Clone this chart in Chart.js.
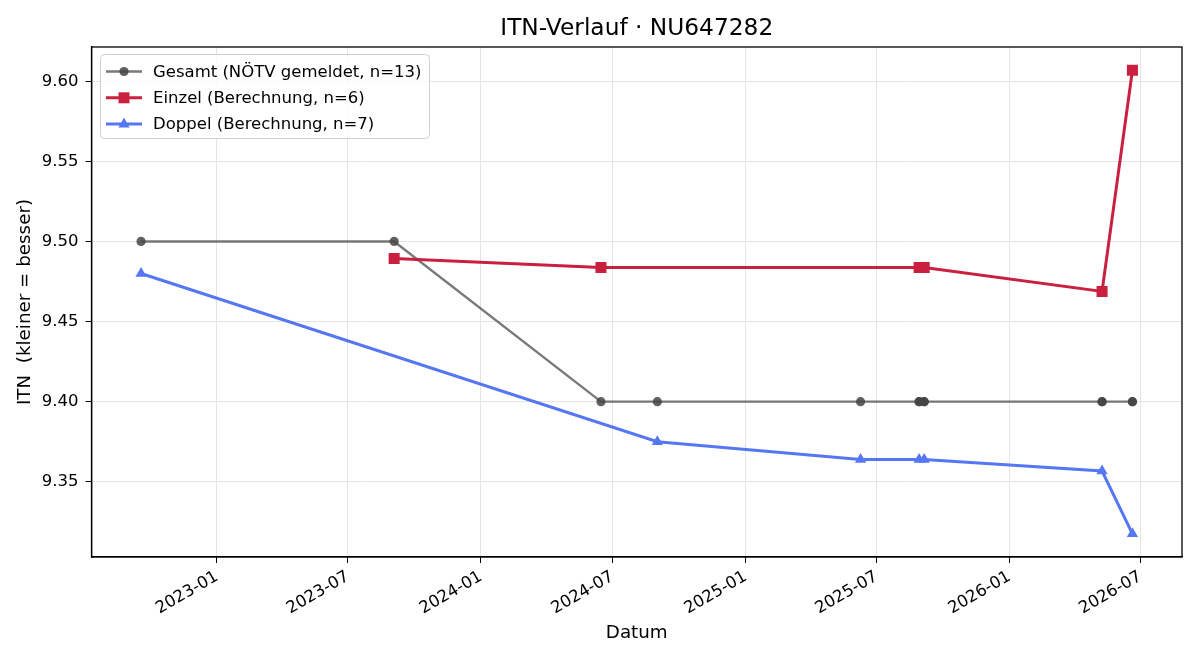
<!DOCTYPE html>
<html>
<head>
<meta charset="utf-8">
<title>ITN-Verlauf</title>
<script src="https://cdn.jsdelivr.net/npm/chart.js@4.4.1/dist/chart.umd.min.js"></script>
<style>
  html, body { margin: 0; padding: 0; background: #fff; }
  #wrap { width: 1200px; height: 660px; }
</style>
</head>
<body>
<div id="wrap"><canvas id="itnChart" width="1200" height="660"></canvas></div>
<script>
// daten
var gesamtDates = ['2022-09-18', '2023-09-03', '2024-06-15', '2024-09-01', '2025-06-09',
    '2025-08-29', '2025-08-29', '2025-09-05', '2025-09-05', '2026-05-09', '2026-05-09',
    '2026-06-20', '2026-06-20'];
var gesamtValues = [9.50, 9.50, 9.40, 9.40, 9.40, 9.40, 9.40, 9.40, 9.40, 9.40, 9.40, 9.40, 9.40];

var einzelDates = ['2023-09-03', '2024-06-15', '2025-08-29', '2025-09-05', '2026-05-09', '2026-06-20'];
var einzelValues = [9.4894, 9.4837, 9.4837, 9.4837, 9.4688, 9.6069];

var doppelDates = ['2022-09-18', '2024-09-01', '2025-06-09', '2025-08-29', '2025-09-05', '2026-05-09', '2026-06-20'];
var doppelValues = [9.48, 9.375, 9.3639, 9.3639, 9.3639, 9.3567, 9.3175];

var xTickLabels = ['2023-01', '2023-07', '2024-01', '2024-07', '2025-01', '2025-07', '2026-01', '2026-07'];
var yTickValues = [9.35, 9.40, 9.45, 9.50, 9.55, 9.60];

var seriesNames = ['Gesamt (NÖTV gemeldet, n=13)', 'Einzel (Berechnung, n=6)', 'Doppel (Berechnung, n=7)'];
var chartTitle = 'ITN-Verlauf · NU647282';

var FONT = 'DejaVu Sans';

function toDay(s) {
    var p = s.split('-');
    return Date.UTC(+p[0], +p[1] - 1, p[2] ? +p[2] : 1) / 86400000;
}
function dayToLabel(d) {
    var dt = new Date(d * 86400000);
    var m = dt.getUTCMonth() + 1;
    return dt.getUTCFullYear() + '-' + (m < 10 ? '0' + m : m);
}
function pts(dates, vals) {
    return dates.map(function (d, i) { return { x: toDay(d), y: vals[i] }; });
}

// achsengrenzen wie bei matplotlib: 5% rand
var allX = [].concat(gesamtDates, einzelDates, doppelDates).map(toDay);
var allY = [].concat(gesamtValues, einzelValues, doppelValues);
var xLo = Math.min.apply(null, allX), xHi = Math.max.apply(null, allX);
var yLo = Math.min.apply(null, allY), yHi = Math.max.apply(null, allY);
var xPad = (xHi - xLo) * 0.05, yPad = (yHi - yLo) * 0.05;

var colGesamt = 'rgba(85,85,85,0.78)';
var colGesamtPt = 'rgba(68,68,68,0.85)';
var colEinzel = '#C9203F';
var colDoppel = '#5677F3';

var legendItems = [
    { text: seriesNames[0], color: colGesamt, pt: colGesamtPt, style: 'circle', lw: 2.4 },
    { text: seriesNames[1], color: colEinzel, pt: colEinzel, style: 'rect', lw: 3 },
    { text: seriesNames[2], color: colDoppel, pt: colDoppel, style: 'triangle', lw: 3 }
];

function marker(ctx, style, x, y, color) {
    ctx.fillStyle = color;
    ctx.beginPath();
    if (style === 'circle') {
        ctx.arc(x, y, 4.6, 0, Math.PI * 2);
    } else if (style === 'rect') {
        ctx.rect(x - 5.5, y - 5.5, 11, 11);
    } else {
        ctx.moveTo(x, y - 6.5);
        ctx.lineTo(x + 5.6, y + 3.3);
        ctx.lineTo(x - 5.6, y + 3.3);
        ctx.closePath();
    }
    ctx.fill();
}

var framePlugin = {
    id: 'frameAndLegend',
    afterDatasetsDraw: function (chart) {
        var ctx = chart.ctx, a = chart.chartArea;
        ctx.save();
        ctx.strokeStyle = '#000';
        ctx.lineWidth = 1.3;
        ctx.strokeRect(a.left, a.top, a.right - a.left, a.bottom - a.top);

        // titel ueber der zeichenflaeche zentriert
        ctx.fillStyle = '#000';
        ctx.font = '23.3px "' + FONT + '"';
        ctx.textAlign = 'center';
        ctx.textBaseline = 'middle';
        ctx.fillText(chartTitle, (a.left + a.right) / 2, 28.5);

        // legende
        var bx = 100.5, by = 54.5, bw = 329, bh = 84;
        ctx.beginPath();
        ctx.roundRect(bx, by, bw, bh, 4);
        ctx.fillStyle = 'rgba(255,255,255,0.8)';
        ctx.fill();
        ctx.strokeStyle = '#d0d0d0';
        ctx.lineWidth = 1;
        ctx.stroke();

        ctx.font = '16.5px "' + FONT + '"';
        ctx.textBaseline = 'middle';
        ctx.textAlign = 'left';
        legendItems.forEach(function (it, i) {
            var y = 71.5 + i * 26.3;
            ctx.strokeStyle = it.color;
            ctx.lineWidth = it.lw;
            ctx.beginPath();
            ctx.moveTo(106, y);
            ctx.lineTo(142, y);
            ctx.stroke();
            marker(ctx, it.style, 124, y, it.pt);
            ctx.fillStyle = '#000';
            ctx.fillText(it.text, 153, y + 1);
        });
        ctx.restore();
    }
};

const ctx = document.getElementById('itnChart');

new Chart(ctx, {
    type: 'line',
    data: {
        datasets: [{
            label: seriesNames[0],
            data: pts(gesamtDates, gesamtValues),
            borderColor: colGesamt,
            backgroundColor: colGesamtPt,
            pointBackgroundColor: colGesamtPt,
            pointBorderWidth: 0,
            borderWidth: 2.4,
            pointStyle: 'circle',
            pointRadius: 4.6,
            tension: 0,
            order: 3
        }, {
            label: seriesNames[1],
            data: pts(einzelDates, einzelValues),
            borderColor: colEinzel,
            backgroundColor: colEinzel,
            pointBackgroundColor: colEinzel,
            pointBorderWidth: 0,
            borderWidth: 3,
            pointStyle: 'rect',
            pointRadius: 7.8,
            tension: 0,
            order: 2
        }, {
            label: seriesNames[2],
            data: pts(doppelDates, doppelValues),
            borderColor: colDoppel,
            backgroundColor: colDoppel,
            pointBackgroundColor: colDoppel,
            pointBorderWidth: 0,
            borderWidth: 3,
            pointStyle: 'triangle',
            pointRadius: 6.5,
            tension: 0,
            order: 1
        }]
    },
    options: {
        responsive: false,
        animation: false,
        events: [],
        layout: { padding: { left: 0, right: 18, top: 47, bottom: 0 } },
        plugins: {
            legend: { display: false },
            tooltip: { enabled: false },
            title: { display: false }
        },
        scales: {
            x: {
                type: 'linear',
                min: xLo - xPad,
                max: xHi + xPad,
                afterBuildTicks: function (scale) {
                    scale.ticks = xTickLabels.map(function (t) { return { value: toDay(t) }; });
                },
                afterFit: function (scale) { scale.height = 103; },
                ticks: {
                    autoSkip: false,
                    minRotation: 30,
                    maxRotation: 30,
                    padding: 4,
                    color: '#000',
                    font: { family: FONT, size: 16.5 },
                    callback: function (v) { return dayToLabel(v); }
                },
                grid: { color: '#e4e4e4', lineWidth: 1, tickColor: '#000', tickLength: 6 },
                border: { color: '#000', width: 1.3 },
                title: {
                    display: true,
                    text: 'Datum',
                    color: '#000',
                    font: { family: FONT, size: 18.3 },
                    padding: { top: 0, bottom: 16 }
                }
            },
            y: {
                type: 'linear',
                min: yLo - yPad,
                max: yHi + yPad,
                afterBuildTicks: function (scale) {
                    scale.ticks = yTickValues.map(function (v) { return { value: v }; });
                },
                afterFit: function (scale) { scale.width = 91.5; },
                ticks: {
                    padding: 7,
                    color: '#000',
                    font: { family: FONT, size: 16.5 },
                    callback: function (v) { return v.toFixed(2); }
                },
                grid: { color: '#e4e4e4', lineWidth: 1, tickColor: '#000', tickLength: 6 },
                border: { color: '#000', width: 1.3 },
                title: {
                    display: true,
                    text: 'ITN  (kleiner = besser)',
                    color: '#000',
                    font: { family: FONT, size: 18.3 },
                    padding: { top: 14, bottom: 0 }
                }
            }
        }
    },
    plugins: [framePlugin]
});
</script>
</body>
</html>
